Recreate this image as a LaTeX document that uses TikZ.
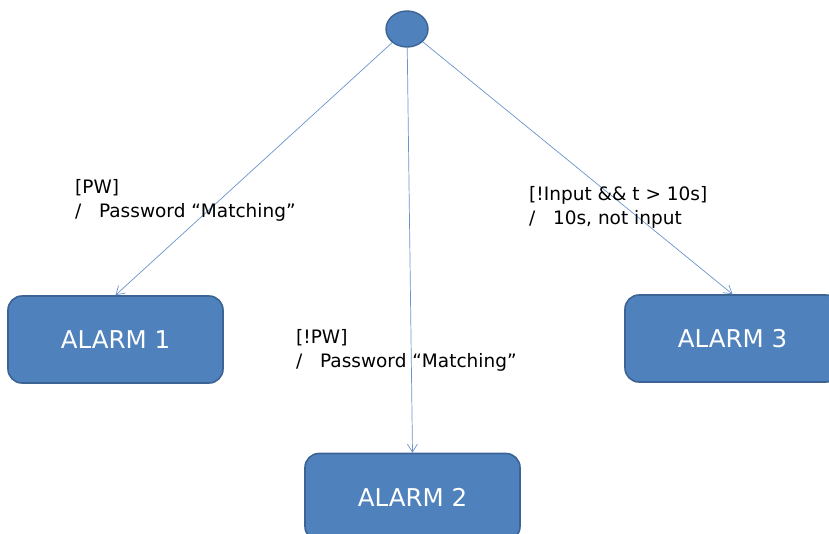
\documentclass[tikz,border=0pt]{standalone}
\usepackage{fontspec}
\setmainfont{DejaVu Sans}
\usetikzlibrary{arrows.meta,shapes.geometric}
\definecolor{boxfill}{HTML}{4F81BD}
\definecolor{boxline}{HTML}{3B6494}
\definecolor{wire}{HTML}{6A93CC}
\tikzset{
  state/.style={draw=boxline, line width=1.6pt, fill=boxfill, rounded corners=14pt,
    minimum width=215pt, minimum height=87pt, text=white, font=\fontsize{24.5}{28}\selectfont},
  initial/.style={draw=boxline, line width=1.4pt, fill=boxfill, ellipse, minimum width=42pt, minimum height=36pt, inner sep=0pt},
  wirearrow/.style={draw=wire, line width=0.7pt, -{Straight Barb[length=8pt,width=10pt]}},
  guard/.style={anchor=north west, align=left, inner sep=0pt, font=\fontsize{18.5}{24.5}\selectfont}
}
\begin{document}
\begin{tikzpicture}[x=1pt,y=-1pt]
\useasboundingbox (0,0) rectangle (829,533);
\clip (0,0) rectangle (829,533);
\node[initial] (s) at (407,29) {};
\node[state] (a1) at (115.5,339.5) {ALARM 1};
\node[state] (a2) at (412.5,497) {ALARM 2};
\node[state] (a3) at (732.5,338.5) {ALARM 3};
\draw[wirearrow] (s) -- (a1.north);
\draw[wirearrow] (s) -- (a2.north);
\draw[wirearrow] (s) -- (a3.north);
\node[guard] (g1) at (75,179) {[PW]\\/\ \ \ Password “Matching”};
\node[guard] (g2) at (296,329) {[!PW]\\/\ \ \ Password “Matching”};
\node[guard] (g3) at (529,186) {[!Input \&\& t > 10s]\\/\ \ \ 10s, not input};
\end{tikzpicture}
\end{document}
